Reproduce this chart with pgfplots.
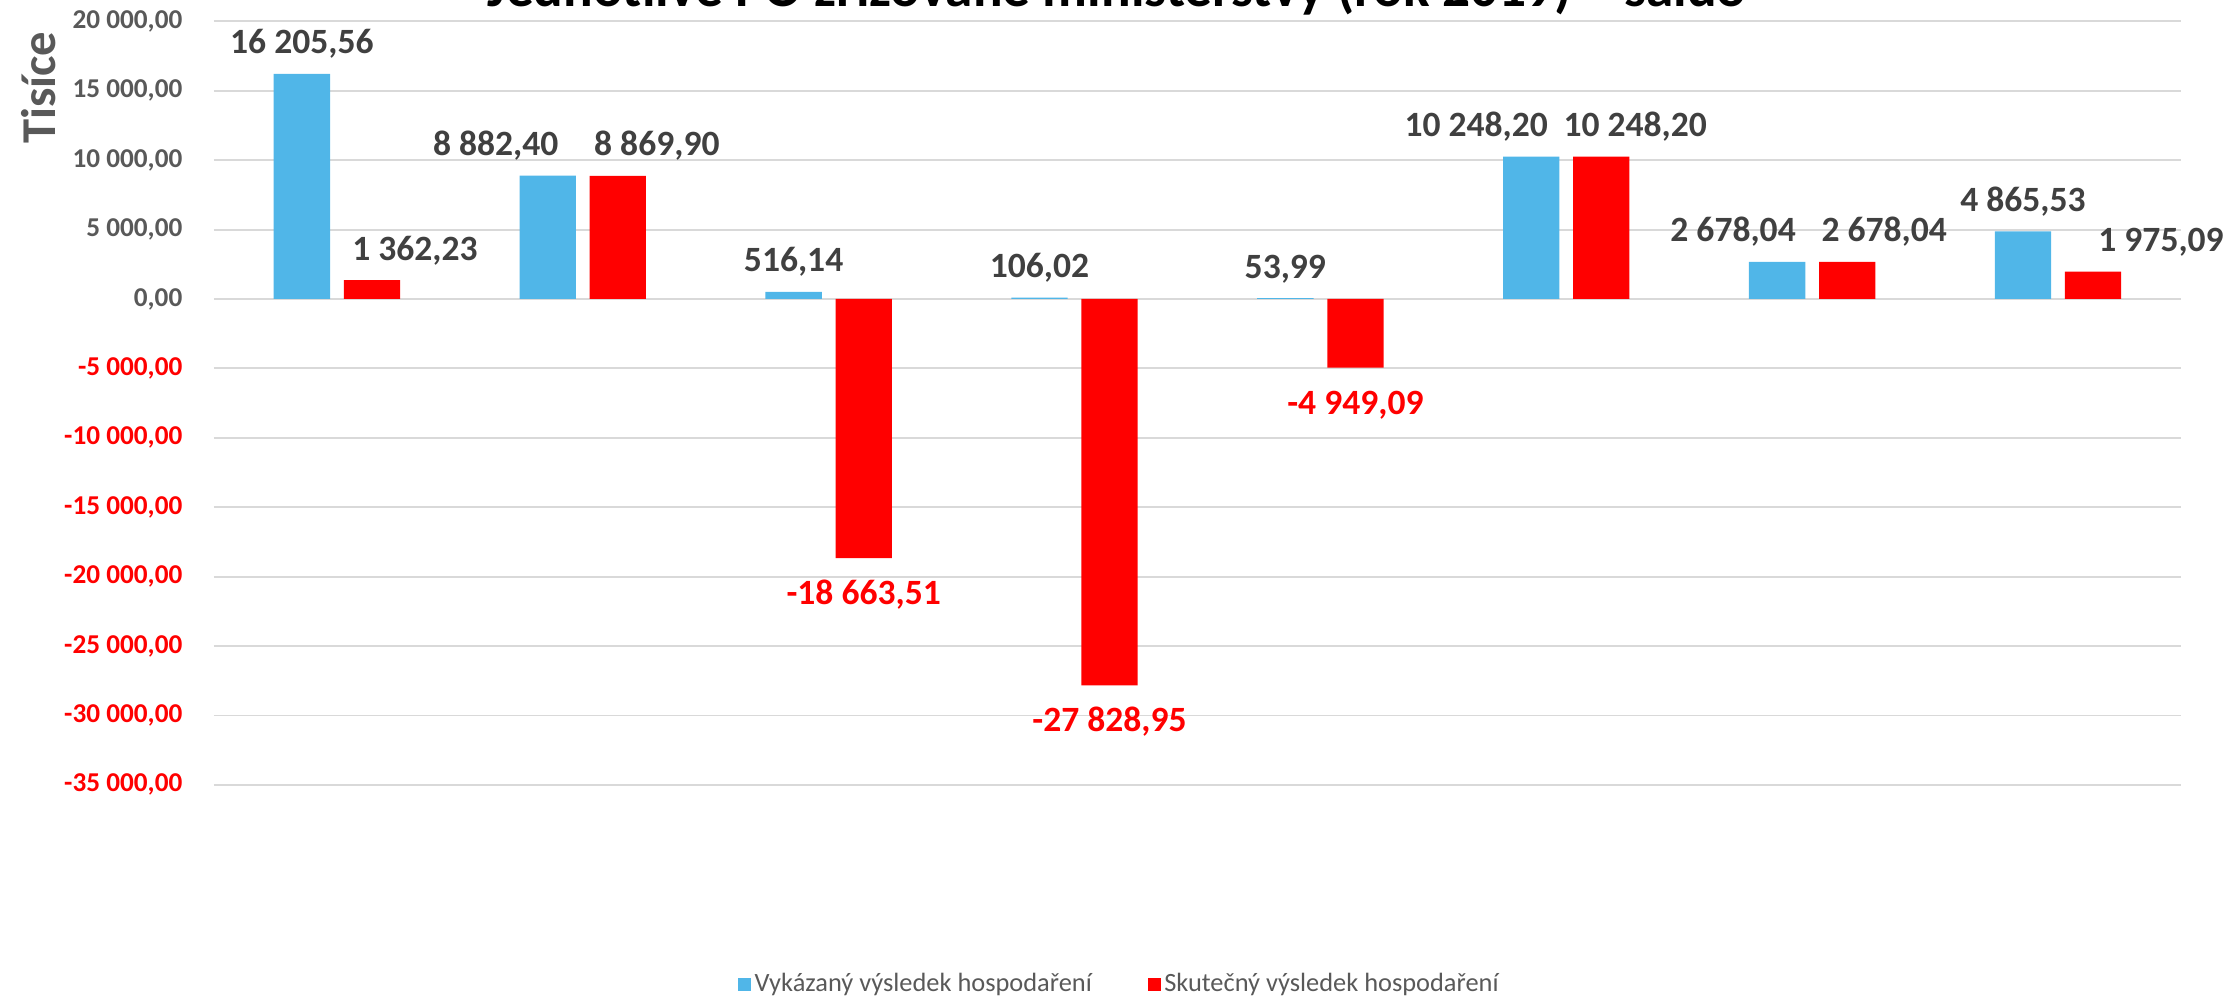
\documentclass[border=0pt]{standalone}
\usepackage{fontspec}
\setmainfont{Carlito}
\usepackage{pgfplots}
\pgfplotsset{compat=1.18}
\definecolor{barblue}{RGB}{80,182,232}
\definecolor{barred}{RGB}{255,0,0}
\definecolor{gridgrey}{RGB}{217,217,217}
\definecolor{tickgrey}{RGB}{89,89,89}
\definecolor{labelgrey}{RGB}{64,64,64}
\begin{document}
\begin{tikzpicture}
\begin{axis}[
  scale only axis, width=708.1pt, height=274.9pt,
  at={(0,0)}, anchor=south west,
  xmin=-0.5, xmax=7.5, ymin=-35000, ymax=20000,
  xtick=\empty,
  ytick={-35000,-30000,-25000,-20000,-15000,-10000,-5000,0,5000,10000,15000,20000},
  yticklabels={{\color{red}-35 000,00},{\color{red}-30 000,00},{\color{red}-25 000,00},{\color{red}-20 000,00},{\color{red}-15 000,00},{\color{red}-10 000,00},{\color{red}-5 000,00},{0,00},{5 000,00},{10 000,00},{15 000,00},{20 000,00}},
  yticklabel style={anchor=east, inner sep=0pt, xshift=-11.2pt, text=tickgrey, font=\bfseries\fontsize{9.8}{11}\selectfont},
  ymajorgrids, grid style={draw=gridgrey, line width=0.7pt},
  axis line style={draw=none}, tick style={draw=none}, major tick length=0pt,
  clip=false,
  legend columns=2,
  legend style={draw=none, fill=none, at={(0.4607,-0.2619)}, anchor=center,
    font=\fontsize{9.5}{11}\selectfont, text=tickgrey, inner sep=0pt,
    nodes={inner sep=1.2pt},
    /tikz/every even column/.append style={column sep=19pt}},
  legend image code/.code={\fill[#1,draw=none] (0pt,-2.34pt) rectangle (4.68pt,2.34pt);},
]
% bars
\addplot[ybar, bar width=0.229, bar shift=-0.1425, fill=barblue, draw=none]
  coordinates {(0,16205.56) (1,8882.40) (2,516.14) (3,106.02) (4,53.99) (5,10248.20) (6,2678.04) (7,4865.53)};
\addlegendentry{Vykázaný výsledek hospodaření}
\addplot[ybar, bar width=0.229, bar shift=0.1425, fill=barred, draw=none]
  coordinates {(0,1362.23) (1,8869.90) (2,-18663.51) (3,-27828.95) (4,-4949.09) (5,10248.20) (6,2678.04) (7,1975.09)};
\addlegendentry{Skutečný výsledek hospodaření}
% data labels (positive, grey)
\addplot[draw=none, mark=none, forget plot, nodes near coords, point meta=explicit symbolic,
  every node near coord/.append style={anchor=base, yshift=7.2pt, inner sep=0pt, text=labelgrey, font=\bfseries\fontsize{12.8}{15}\selectfont}]
  coordinates {(-0.1425,16205.56) [16 205,56] (0.6459,8882.40) [8 882,40] (1.8575,516.14) [516,14] (2.8575,106.02) [106,02] (3.8575,53.99) [53,99] (4.6337,10248.20) [10 248,20] (5.6785,2678.04) [2 678,04] (6.8575,4865.53) [4 865,53]};
\addplot[draw=none, mark=none, forget plot, nodes near coords, point meta=explicit symbolic,
  every node near coord/.append style={anchor=base, yshift=7.2pt, inner sep=0pt, text=labelgrey, font=\bfseries\fontsize{12.8}{15}\selectfont}]
  coordinates {(0.3175,1362.23) [1 362,23] (1.3012,8869.90) [8 869,90] (5.2805,10248.20) [10 248,20] (6.2931,2678.04) [2 678,04] (7.4192,1975.09) [1 975,09]};
% data labels (negative, red)
\addplot[draw=none, mark=none, forget plot, nodes near coords, point meta=explicit symbolic,
  every node near coord/.append style={anchor=base, yshift=-16.7pt, inner sep=0pt, text=red, font=\bfseries\fontsize{12.8}{15}\selectfont}]
  coordinates {(2.1425,-18663.51) [-18 663,51] (3.1425,-27828.95) [-27 828,95] (4.1425,-4949.09) [-4 949,09]};
\end{axis}
\node[anchor=base, font=\bfseries\fontsize{19.9}{24}\selectfont, text=black] at (325.1pt,280.2pt) {Jednotlivé PO zřizované ministerstvy (rok 2019) – saldo};
\node[rotate=90, font=\bfseries\fontsize{17.5}{21}\selectfont, text=tickgrey] at (-63pt,251pt) {Tisíce};
\pgfresetboundingbox
\useasboundingbox (-77.04pt,-78.12pt) rectangle (724.32pt,282.57pt);
\end{tikzpicture}
\end{document}
